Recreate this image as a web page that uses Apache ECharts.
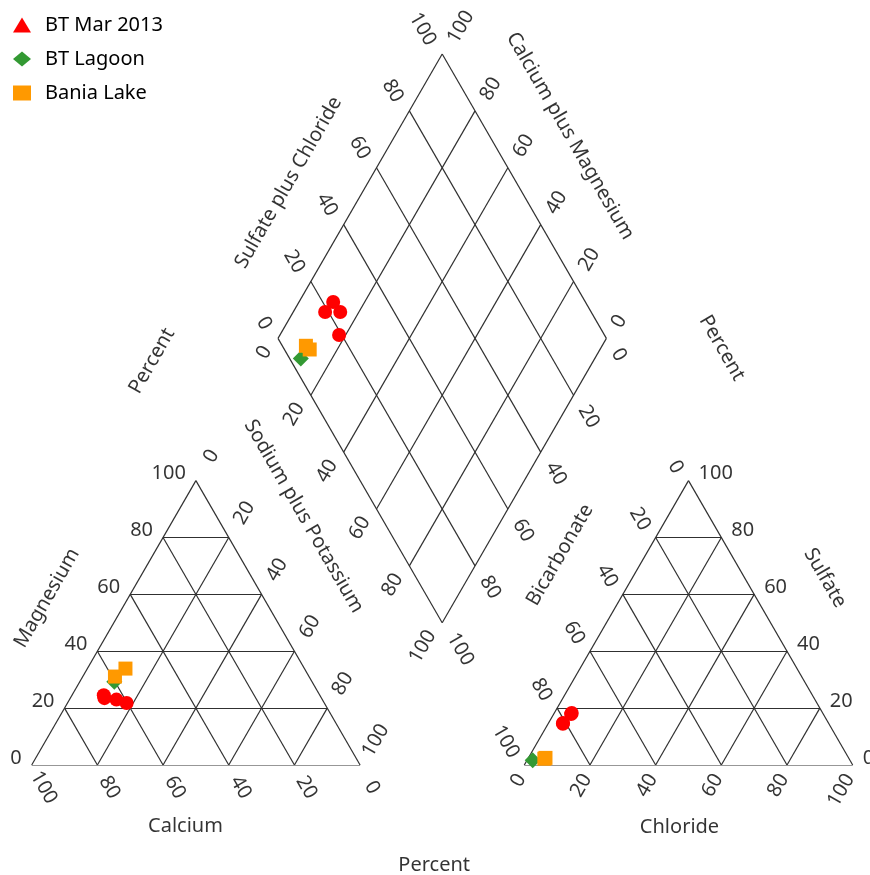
<!DOCTYPE html>
<html>
<head>
<meta charset="utf-8">
<script src="https://cdn.jsdelivr.net/npm/echarts@6/dist/echarts.min.js"></script>
<style>
  html, body { margin: 0; padding: 0; background: #ffffff; }
  #chart { width: 870px; height: 875px; }
</style>
</head>
<body>
<div id="chart"></div>
<script>
// Major-ion composition of each water sample, percent of total cations / anions (meq/L)
const sampleSite      = ['BT Mar 2013', 'BT Mar 2013', 'BT Mar 2013', 'BT Mar 2013', 'BT Lagoon', 'Bania Lake', 'Bania Lake'];
const calcium         = [66.1, 65.8, 62.7, 60.2, 60.2, 59.1, 54.5];
const magnesium       = [23.5, 24.5, 23.0, 21.8, 29.3, 31.1, 33.9];
const sodiumPotassium = [10.4,  9.7, 14.3, 18.0, 10.5,  9.8, 11.6];
const bicarbonate     = [76.8, 81.0, 76.4, 80.8, 96.6, 92.8, 92.3];
const sulfate         = [17.9, 14.5, 18.3, 14.8,  1.7,  2.2,  2.5];
const chloride        = [ 5.3,  4.5,  5.3,  4.4,  1.7,  5.0,  5.2];

const siteNames   = ['BT Mar 2013', 'BT Lagoon', 'Bania Lake'];
const siteColors  = ['#ff0000', '#339933', '#ff9900'];
const siteSymbols = ['circle', 'diamond', 'rect'];
const siteIcons   = ['triangle', 'diamond', 'rect'];
const siteSizes   = [14, 16, 14];

const tickValues = [0, 20, 40, 60, 80, 100];

// ---- Piper geometry (triangle side = 100 units) ----
const H = Math.sqrt(3) / 2;
const GAP = 50;                 // space between the two triangles
const RIGHT_X = 100 + GAP;      // left corner of the anion triangle
const DX = (100 + GAP) / 2;     // left vertex of the diamond
const DY = (100 + GAP) * H;
const X_MAX = 200 + GAP, Y_MAX = 230;
const PX = 3.284;               // pixels per unit
const GRID_LEFT = 31.7, GRID_BOTTOM_Y = 765;

function cationXY(ca, mg, nak) {
  const s = ca + mg + nak;
  return [(nak + mg / 2) * 100 / s, mg * H * 100 / s];
}
function anionXY(hco3, so4, cl) {
  const s = hco3 + so4 + cl;
  return [RIGHT_X + (cl + so4 / 2) * 100 / s, so4 * H * 100 / s];
}
// a = sulfate + chloride, c = sodium + potassium
function diamondXY(a, c) {
  return [DX + (a + c) / 2, DY + H * (a - c)];
}

// ---- grid lines ----
const segments = [];
for (let k = 0; k <= 80; k += 20) {
  const r = 100 - k;
  segments.push([cationXY(r, k, 0), cationXY(0, k, r)]);
  segments.push([cationXY(r, 0, k), cationXY(0, r, k)]);
  segments.push([cationXY(k, r, 0), cationXY(k, 0, r)]);
  segments.push([anionXY(r, k, 0), anionXY(0, k, r)]);
  segments.push([anionXY(r, 0, k), anionXY(0, r, k)]);
  segments.push([anionXY(k, r, 0), anionXY(k, 0, r)]);
}
for (let k = 0; k <= 100; k += 20) {
  segments.push([diamondXY(k, 0), diamondXY(k, 100)]);
  segments.push([diamondXY(0, k), diamondXY(100, k)]);
}

// ---- text labels placed from geometry with pixel offsets ----
function textItem(pos, text, dx, dy, rotate, align) {
  return {
    name: text,
    value: [pos[0] + dx / PX, pos[1] - dy / PX],
    label: { rotate: rotate, align: align }
  };
}
const textItems = [];
const tickAxes = [
  { at: t => cationXY(100 - t, t, 0), dx: -10, dy: -7, rot: 0, align: 'right' },      // Magnesium
  { at: t => cationXY(t, 0, 100 - t), dx: 12, dy: 22.5, rot: -60, align: 'center' },   // Calcium
  { at: t => cationXY(0, 100 - t, t), dx: 15.5, dy: -24.5, rot: 60, align: 'center' }, // Sodium plus Potassium
  { at: t => anionXY(100 - t, 0, t), dx: -3, dy: 10.5, rot: 60, align: 'right' },      // Chloride
  { at: t => anionXY(t, 100 - t, 0), dx: -10, dy: -8.5, rot: -60, align: 'right' },    // Bicarbonate
  { at: t => anionXY(0, t, 100 - t), dx: 10, dy: -7, rot: 0, align: 'left' },          // Sulfate
  { at: t => diamondXY(t, 0), dx: -11, dy: -10, rot: -60, align: 'right' },            // Sulfate plus Chloride
  { at: t => diamondXY(100, 100 - t), dx: 10, dy: -12, rot: 60, align: 'left' },       // Calcium plus Magnesium
  { at: t => diamondXY(0, t), dx: -11, dy: 9, rot: 60, align: 'right' },               // Sodium plus Potassium
  { at: t => diamondXY(100 - t, 100), dx: 9.5, dy: 11.5, rot: -60, align: 'left' }     // Bicarbonate
];
tickAxes.forEach(ax => {
  tickValues.forEach(t => {
    textItems.push(textItem(ax.at(t), String(t), ax.dx, ax.dy, ax.rot, ax.align));
  });
});
const titles = [
  [cationXY(50, 50, 0), 'Magnesium', -66.8, -24.8, 60],
  [cationXY(50, 0, 50), 'Calcium', -10.4, 61, 0],
  [cationXY(0, 50, 50), 'Sodium plus Potassium', 25.7, -106.5, -60],
  [diamondXY(50, 0), 'Sulfate plus Chloride', -71.6, -13.7, 60],
  [diamondXY(100, 50), 'Calcium plus Magnesium', 45.8, -60.2, -60],
  [anionXY(50, 50, 0), 'Bicarbonate', -46.4, -67.8, 60],
  [anionXY(0, 50, 50), 'Sulfate', 54.4, -44.8, -60],
  [anionXY(50, 0, 50), 'Chloride', -9, 62, 0],
  [diamondXY(0, 0), 'Percent', -126, 22.6, 60],
  [diamondXY(100, 100), 'Percent', 115.5, 9.6, -60],
  [diamondXY(0, 100), 'Percent', -8, 242.4, 0]
];
titles.forEach(t => textItems.push(textItem(t[0], t[1], t[2], t[3], t[4], 'center')));

// ---- sample points: cation triangle, anion triangle and diamond ----
function sitePoints(site) {
  const pts = [];
  sampleSite.forEach((s, i) => {
    if (s !== site) return;
    pts.push(cationXY(calcium[i], magnesium[i], sodiumPotassium[i]));
    pts.push(anionXY(bicarbonate[i], sulfate[i], chloride[i]));
    const cs = calcium[i] + magnesium[i] + sodiumPotassium[i];
    const as = bicarbonate[i] + sulfate[i] + chloride[i];
    pts.push(diamondXY((sulfate[i] + chloride[i]) * 100 / as, sodiumPotassium[i] * 100 / cs));
  });
  return pts;
}

const FONT = '"Noto Sans", "Open Sans", sans-serif';

const chart = echarts.init(document.getElementById('chart'), null, { renderer: 'canvas' });
chart.setOption({
  animation: false,
  backgroundColor: '#ffffff',
  grid: {
    left: GRID_LEFT,
    top: GRID_BOTTOM_Y - Y_MAX * PX,
    width: X_MAX * PX,
    height: Y_MAX * PX
  },
  xAxis: { type: 'value', min: 0, max: X_MAX, show: false },
  yAxis: { type: 'value', min: 0, max: Y_MAX, show: false },
  legend: {
    orient: 'vertical',
    left: 8,
    top: 10,
    itemWidth: 18,
    itemHeight: 15,
    itemGap: 14,
    selectedMode: false,
    textStyle: { fontSize: 20, color: '#000000', fontFamily: FONT, padding: [0, 0, 0, 9] },
    data: siteNames.map((n, i) => ({ name: n, icon: siteIcons[i] }))
  },
  series: [
    {
      type: 'lines',
      coordinateSystem: 'cartesian2d',
      silent: true,
      z: 1,
      lineStyle: { color: '#303030', width: 1.2, opacity: 1, curveness: 0 },
      data: segments.map(s => ({ coords: s }))
    },
    {
      type: 'scatter',
      name: 'axis text',
      silent: true,
      clip: false,
      z: 2,
      symbol: 'circle',
      symbolSize: 1,
      itemStyle: { color: 'transparent' },
      label: {
        show: true,
        position: 'inside',
        formatter: '{b}',
        color: '#000000',
        fontSize: 20,
        fontFamily: FONT,
        verticalAlign: 'middle'
      },
      data: textItems
    }
  ].concat(siteNames.map((n, i) => ({
    type: 'scatter',
    name: n,
    z: 3 + i,
    symbol: siteSymbols[i],
    symbolSize: siteSizes[i],
    itemStyle: { color: siteColors[i], opacity: 1 },
    emphasis: { disabled: true },
    data: sitePoints(n)
  })))
});
</script>
</body>
</html>
